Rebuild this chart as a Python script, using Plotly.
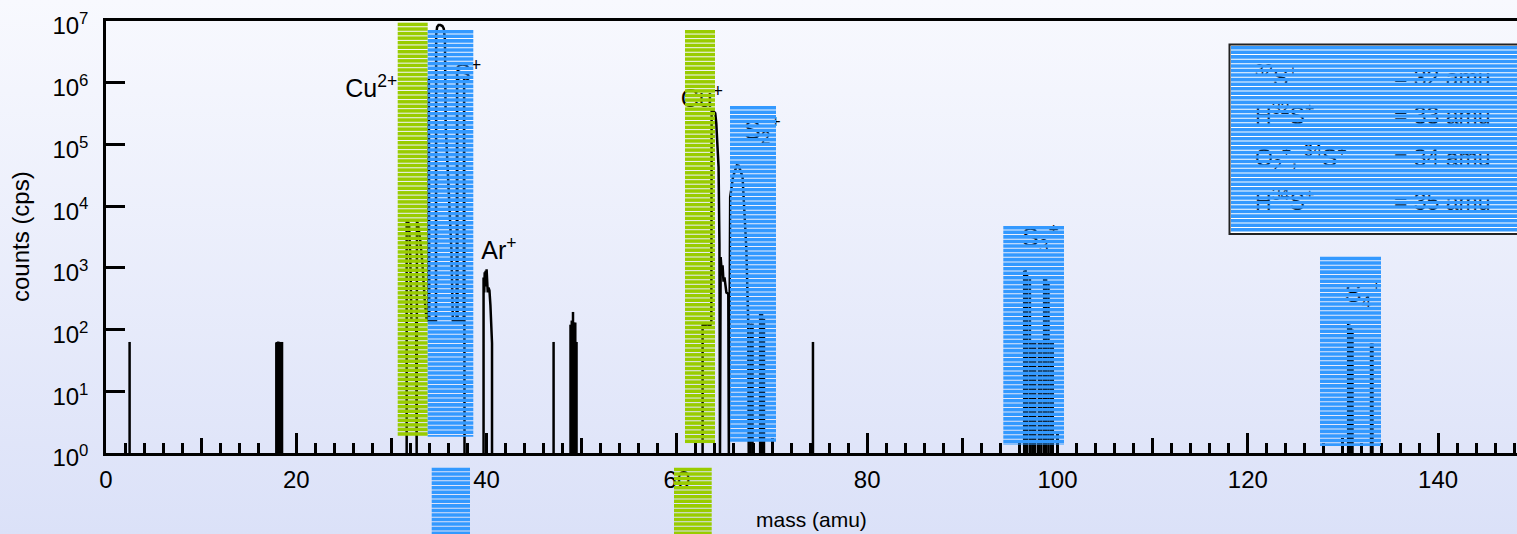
import base64
import plotly.graph_objects as go

# ---------------- spectrum data: mass (amu) vs counts (cps) ----------------
# narrow single lines
line_mass = [2.48,
             17.9, 18.0, 18.1, 18.2, 18.3, 18.4, 18.5,
             47.04,
             48.82, 48.95, 49.08, 49.2, 49.32, 49.45,
             67.75, 67.95, 68.75, 68.95, 69.15,
             74.3,
             96.5, 96.65, 96.8, 97.1, 97.35, 97.5, 97.65, 98.05, 98.3,
             98.6, 98.8, 99.05, 99.3, 99.5,
             130.55, 130.7, 130.85, 131.0, 132.95, 133.1]
line_counts = [63,
               62, 63, 64, 63, 63, 62, 63,
               63,
               120, 140, 193, 130, 130, 63,
               125, 125, 200, 190, 150,
               63,
               900, 950, 850, 700, 63, 63, 63, 63, 63,
               680, 700, 600, 63, 63,
               126, 120, 110, 100, 60, 60]

# Cu2+ / S+ group (31-38 amu)
grp_mass = [31.6, 31.6, 31.7, 31.85, 31.98, 32.1, 32.6, 32.65, 32.68, 32.8, 33.0,
            33.25, 33.5, 33.7, 33.88, 33.93, 33.98, 34.68, 34.7, 34.8, 34.95, 35.15,
            35.35, 35.5, 35.62, 35.7, 36.0, 36.3, 36.45, 36.85, 36.9, 36.95, 37.6,
            37.64, 37.68]
grp_counts = [1, 5500, 5800, 5000, 1500, 140, 140, 1, 5800, 5000, 3000,
              1200, 300, 140, 140, 1.2e6, 140, 140, 6e6, 8e6, 8.6e6, 8.6e6,
              8.3e6, 7.5e6, 5e6, 2e5, 2e4, 2e3, 140, 140, 1.5e6, 140, 140,
              1.2e6, 1]

# Ar+ (40 amu)
ar_mass = [39.68, 39.68, 39.75, 39.8, 39.85, 39.9, 39.95, 40.0, 40.05, 40.12,
           40.2, 40.3, 40.4, 40.5, 40.57, 40.57]
ar_counts = [1, 700, 400, 850, 600, 900, 500, 950, 700, 400,
             480, 430, 250, 80, 60, 1]

# Cu+ and 65Cu+ (63-68 amu)
cu_mass = [62.7, 62.7, 62.8, 62.95, 63.1, 63.3, 63.5, 63.62, 63.65, 63.75, 63.9,
           64.03, 64.14, 64.38, 64.47, 64.5, 64.53, 64.6, 64.7, 64.8, 64.9, 65.0,
           65.2, 65.4, 65.42, 65.46, 65.6, 65.9, 66.3, 66.5, 66.9, 67.3, 67.5, 67.55]
cu_counts = [1, 120, 130, 110, 125, 120, 115, 130, 3.5e5, 3.6e5, 3.4e5,
             3.2e5, 2.2e5, 4.3e4, 2500, 1, 1, 1500, 900, 1100, 600, 700,
             400, 380, 1, 1, 1.4e4, 3e4, 4.6e4, 4.5e4, 3e4, 2000, 125, 1]

# axis ticks
y_tickvals = [1, 10, 100, 1e3, 1e4, 1e5, 1e6, 1e7]
y_ticktext = ["10<sup>%d</sup>" % k for k in range(8)]

# peak labels (mass, counts, text, side)
label_mass = [30.6, 36.6, 39.45, 60.4, 67.05, 96.27, 130.2]
label_counts = [7.3e5, 1.31e6, 1741, 5.06e5, 1.56e5, 2826, 350]
label_text = ["Cu<sup>2+</sup>", "S<sup>+</sup>", "Ar<sup>+</sup>", "Cu<sup>+</sup>",
              "S<sub>2</sub><sup>+</sup>", "S<sub>3</sub><sup>+</sup>",
              "S<sub>4</sub><sup>+</sup>"]
label_pos = ["middle left"] + ["middle right"] * 6

# key box entries
key_species = ["<sup>32</sup>S<sup>+</sup>", "H<sup>32</sup>S<sup>+</sup>",
               "O<sub>2</sub><sup>+</sup>, <sup>34</sup>S<sup>+</sup>",
               "H<sup>34</sup>S<sup>+</sup>"]
key_mass_text = ["= 32 amu", "= 33 amu", "= 34 amu", "= 35 amu"]
key_counts = [1.107e6, 2.68e5, 5.59e4, 1.08e4]
key_col_left = 120.76
key_col_right = 135.36

# ---------------- layout geometry ----------------
W, H = 1517, 534
ML, MR, MT, MB = 106, 0, 21, 81
PW, PH = W - ML - MR, H - MT - MB
X_MAX = PW / 9.515
FONT = "Liberation Sans, Arial, Helvetica, sans-serif"
GREEN = "#99CC00"
BLUE = "#3399FF"
LW = 2.5


def fx(px):
    return (px - ML) / PW


def fy(py):
    return (H - MB - py) / PH


def stems(ms, cs):
    xs, ys = [], []
    for m, c in zip(ms, cs):
        xs += [m, m, None]
        ys += [1, c, None]
    return xs, ys


sx, sy = stems(line_mass, line_counts)
spec_x = sx + grp_mass + [None] + ar_mass + [None] + cu_mass
spec_y = sy + grp_counts + [None] + ar_counts + [None] + cu_counts

fig = go.Figure()
fig.add_trace(go.Scatter(x=spec_x, y=spec_y, mode="lines",
                         line=dict(color="black", width=LW),
                         hoverinfo="skip", showlegend=False))
fig.add_trace(go.Scatter(x=label_mass, y=label_counts, mode="text",
                         text=label_text, textposition=label_pos,
                         textfont=dict(family=FONT, size=25, color="black"),
                         cliponaxis=False, showlegend=False, hoverinfo="skip"))
fig.add_trace(go.Scatter(x=[key_col_left] * 4, y=key_counts, mode="text",
                         text=key_species, textposition="middle right",
                         textfont=dict(family=FONT, size=23, color="black"),
                         cliponaxis=False, showlegend=False, hoverinfo="skip"))
fig.add_trace(go.Scatter(x=[key_col_right] * 4, y=key_counts, mode="text",
                         text=key_mass_text, textposition="middle right",
                         textfont=dict(family=FONT, size=23, color="black"),
                         cliponaxis=False, showlegend=False, hoverinfo="skip"))
# carrier for the 10-amu tick axis
fig.add_trace(go.Scatter(x=[], y=[], xaxis="x2", showlegend=False))

# background gradient
svg = ("<svg xmlns='http://www.w3.org/2000/svg' width='10' height='100' "
       "preserveAspectRatio='none'><defs><linearGradient id='g' x1='0' y1='0' "
       "x2='0' y2='1'><stop offset='0' stop-color='#f8f9fe'/>"
       "<stop offset='1' stop-color='#dbe1f8'/></linearGradient></defs>"
       "<rect width='10' height='100' fill='url(#g)'/></svg>")
bg_src = "data:image/svg+xml;base64," + base64.b64encode(svg.encode()).decode()

shapes = []
# key frame
shapes.append(dict(type="rect", xref="paper", yref="paper",
                   x0=fx(1229.5), x1=fx(1530), y0=fy(234), y1=fy(44.5),
                   fillcolor="white", line=dict(color="#222222", width=2),
                   layer="below"))

# striped cover boxes (pixel extents)
PERIOD, GAP = 4.55, 1.0
boxes = [
    (397.7, 427.7, 22.7, 436.7, GREEN),
    (427.7, 473.3, 30.0, 436.7, BLUE),
    (431.7, 470.0, 467.7, 534.0, BLUE),
    (674.0, 711.7, 467.7, 534.0, GREEN),
    (685.0, 715.0, 30.0, 444.0, GREEN),
    (730.0, 776.0, 106.0, 441.7, BLUE),
    (1003.3, 1064.0, 226.0, 445.0, BLUE),
    (1320.0, 1381.0, 256.7, 446.0, BLUE),
    (1231.0, 1517.0, 46.0, 233.0, BLUE),
]
for x0, x1, y0, y1, col in boxes:
    y = y0
    while y < y1 - 0.5:
        yb = min(y + PERIOD - GAP, y1)
        shapes.append(dict(type="rect", xref="paper", yref="paper",
                           x0=fx(x0), x1=fx(x1), y0=fy(yb), y1=fy(y),
                           fillcolor=col, line=dict(width=0), layer="above"))
        y += PERIOD

tick_common = dict(ticks="inside", tickwidth=LW, tickcolor="black")

fig.update_layout(
    width=W, height=H,
    margin=dict(l=ML, r=MR, t=MT, b=MB, pad=0),
    paper_bgcolor="white",
    plot_bgcolor="rgba(0,0,0,0)",
    showlegend=False,
    font=dict(family=FONT, size=24, color="black"),
    images=[dict(source=bg_src, xref="paper", yref="paper",
                 x=fx(0), y=fy(0), sizex=W / PW, sizey=H / PH,
                 xanchor="left", yanchor="top", sizing="stretch",
                 layer="below")],
    shapes=shapes,
    xaxis=dict(range=[0, X_MAX], tick0=0, dtick=20, ticklen=20, **tick_common,
               minor=dict(tick0=0, dtick=2, ticklen=10, ticks="inside",
                          tickwidth=LW, tickcolor="black", showgrid=False),
               showline=True, linewidth=LW, linecolor="black", mirror=True,
               showgrid=False, zeroline=False,
               tickfont=dict(family=FONT, size=24),
               ticklabelstandoff=3),
    xaxis2=dict(range=[0, X_MAX], overlaying="x", anchor="y", side="bottom",
                tick0=0, dtick=10, ticklen=15, **tick_common,
                showticklabels=False, showline=False, showgrid=False,
                zeroline=False),
    yaxis=dict(type="log", range=[0, 7.0005], tickvals=y_tickvals,
               ticktext=y_ticktext, ticklen=19, **tick_common,
               showline=True, linewidth=LW, linecolor="black", mirror=False,
               showgrid=False, zeroline=False,
               tickfont=dict(family=FONT, size=24),
               ticklabelstandoff=10, ticklabelshift=5,
               ticklabeloverflow="allow"),
    annotations=[
        dict(text="mass (amu)", xref="paper", yref="paper",
             x=fx(811), y=fy(519), showarrow=False,
             xanchor="center", yanchor="middle",
             font=dict(family=FONT, size=21)),
        dict(text="counts (cps)", xref="paper", yref="paper",
             x=fx(20), y=fy(237), showarrow=False, textangle=-90,
             xanchor="center", yanchor="middle",
             font=dict(family=FONT, size=24)),
    ],
)

fig.write_html("out.html")
